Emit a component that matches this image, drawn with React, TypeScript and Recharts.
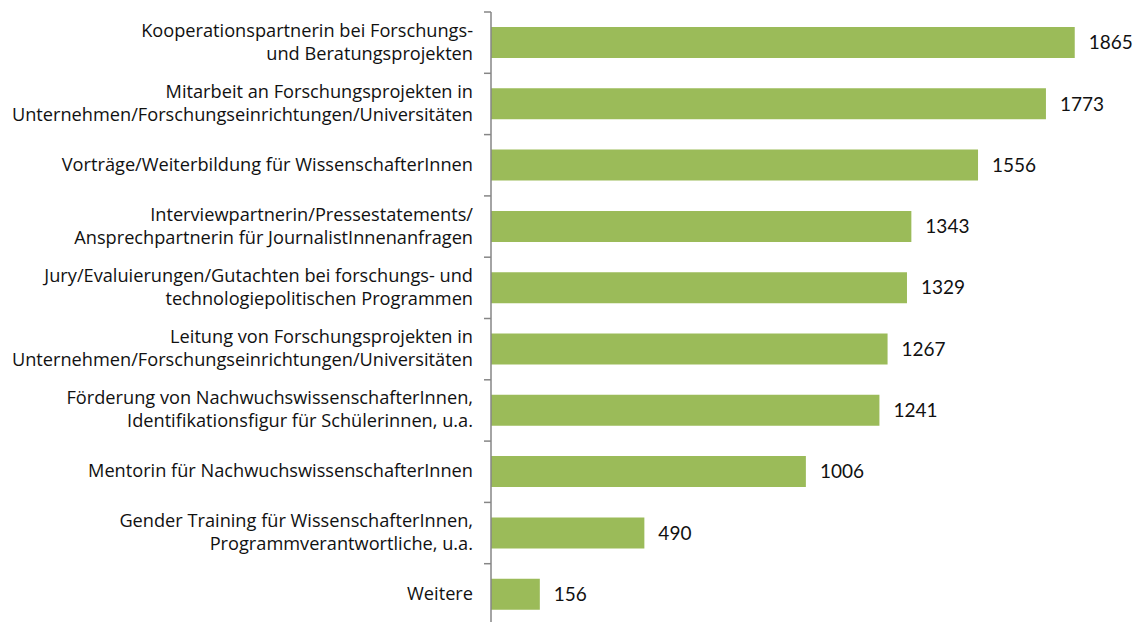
import { BarChart, Bar, XAxis, YAxis, LabelList } from "recharts";

const categories = [
  "Kooperationspartnerin bei Forschungs-\nund Beratungsprojekten",
  "Mitarbeit an Forschungsprojekten in\nUnternehmen/Forschungseinrichtungen/Universitäten",
  "Vorträge/Weiterbildung für WissenschafterInnen",
  "Interviewpartnerin/Pressestatements/\nAnsprechpartnerin für JournalistInnenanfragen",
  "Jury/Evaluierungen/Gutachten bei forschungs- und\ntechnologiepolitischen Programmen",
  "Leitung von Forschungsprojekten in\nUnternehmen/Forschungseinrichtungen/Universitäten",
  "Förderung von NachwuchswissenschafterInnen,\nIdentifikationsfigur für Schülerinnen, u.a.",
  "Mentorin für NachwuchswissenschafterInnen",
  "Gender Training für WissenschafterInnen,\nProgrammverantwortliche, u.a.",
  "Weitere",
];

const values = [1865, 1773, 1556, 1343, 1329, 1267, 1241, 1006, 490, 156];

const data = categories.map((name, i) => ({ name, value: values[i] }));

const LABEL_FONT = "'Open Sans', sans-serif";
const NUM_FONT = "Lato, 'Open Sans', sans-serif";
const BAND = 61.3;

function CategoryTick(props: any) {
  const { x, y, payload, index } = props;
  const lines: string[] = String(payload.value).split("\n");
  const lh = 23;
  const start = y - 1.5 - ((lines.length - 1) * lh) / 2;
  return (
    <g>
      <line x1={484} x2={491} y1={y - BAND / 2} y2={y - BAND / 2} stroke="#868686" strokeWidth={1.5} />
      {index === categories.length - 1 && (
        <line x1={484} x2={491} y1={y + BAND / 2} y2={y + BAND / 2} stroke="#868686" strokeWidth={1.5} />
      )}
      <text x={x - 10} y={start} textAnchor="end" dominantBaseline="central" fill="#111" fontSize={18.2} fontFamily={LABEL_FONT}>
        {lines.map((l, i) => (
          <tspan key={i} x={x - 10} dy={i === 0 ? 0 : lh}>
            {l}
          </tspan>
        ))}
      </text>
    </g>
  );
}

export default function App() {
  return (
    <div style={{ position: "absolute", left: 0, top: 0, width: 1143, height: 622, overflow: "hidden", background: "#fff" }}>
      <BarChart
        width={1143}
        height={625}
        data={data}
        layout="vertical"
        margin={{ top: 12, right: 26, bottom: 0, left: 0 }}
      >
        <XAxis type="number" domain={[0, 2000]} hide />
        <YAxis
          type="category"
          dataKey="name"
          width={491}
          axisLine={{ stroke: "#868686", strokeWidth: 1.5 }}
          tickLine={false}
          tick={<CategoryTick />}
          interval={0}
        />
        <Bar dataKey="value" fill="#9bbb59" barSize={31} isAnimationActive={false}>
          <LabelList dataKey="value" position="right" offset={14} fill="#111" fontSize={19} fontFamily={NUM_FONT} />
        </Bar>
      </BarChart>
    </div>
  );
}
